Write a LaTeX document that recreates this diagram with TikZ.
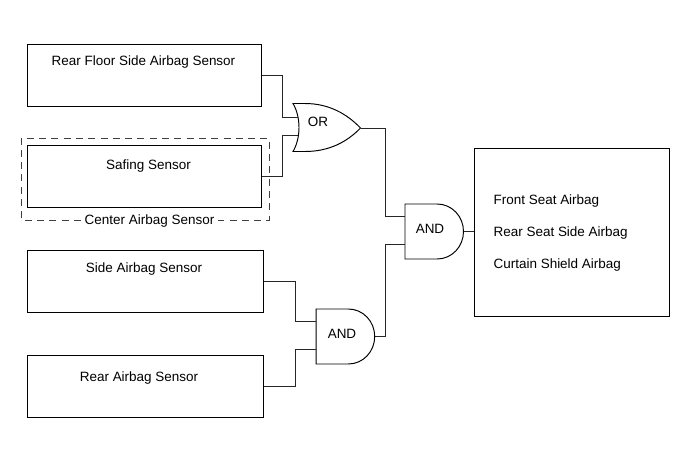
\documentclass[tikz,border=0pt]{standalone}
\usepackage{fontspec}
\setmainfont{Liberation Sans}

\tikzset{
    boxline/.style={draw, line width=0.55pt},
    wire/.style={line width=0.45pt, black!85},
    sensor/.style={boxline, minimum width=4.68cm, minimum height=1.24cm, inner sep=0pt},
    caption/.style={font=\fontsize{7.67}{9}\selectfont, inner sep=1pt},
    andgate/.pic={
        \draw[boxline] (-29,-27.5) -- (3,-27.5) .. controls (18,-27.5) and (29.5,-15) .. (29.5,0)
            .. controls (29.5,15) and (18,27.5) .. (3,27.5) -- (-29,27.5) -- cycle;
        \coordinate (-in1) at (-29,-15.5);
        \coordinate (-in2) at (-29,12.5);
        \coordinate (-out) at (29.5,0);
    },
    orgate/.pic={
        \draw[boxline] (-34,-24.5) -- (-22,-24.5) .. controls (2,-24.5) and (20,-14) .. (33.5,0)
            .. controls (20,14) and (2,23.5) .. (-22,23.5) -- (-34,23.5)
            .. controls (-26,10) and (-26,-11) .. (-34,-24.5) -- cycle;
        \coordinate (-in1) at (-29,-11);
        \coordinate (-in2) at (-29,7);
        \coordinate (-out) at (33.5,0);
    }
}

\begin{document}
\begin{tikzpicture}[x=0.02cm,y=-0.02cm]
    \useasboundingbox (0,0) rectangle (691,467);

    % sensors
    \node[sensor] (rearfloor) at (144.7,75) {};
    \node[caption] (rearfloortext) at (143.5,62.3) {Rear Floor Side Airbag Sensor};

    \node[sensor] (safing) at (144.7,176) {};
    \node[caption] (safingtext) at (148.5,166.3) {Safing Sensor};

    \node[sensor, minimum width=4.72cm] (side) at (145.7,281) {};
    \node[caption] (sidetext) at (144,269.3) {Side Airbag Sensor};

    \node[sensor, minimum width=4.72cm] (rear) at (145.7,386) {};
    \node[caption] (reartext) at (139,378.3) {Rear Airbag Sensor};

    % center airbag sensor frame
    \node[caption, inner xsep=2pt] (center) at (149.5,221) {Center Airbag Sensor};
    \draw[wire, dash pattern=on 4pt off 3pt, black!75] (center.west |- 21,220) -- (21,220) -- (21,138) -- (269,138) -- (269,220) -- (center.east |- 269,220);

    % gates
    \pic (orgate) at (327,128) {orgate};
    \node[caption] (ortext) at (318,121.7) {OR};

    \pic (andtop) at (434,231.5) {andgate};
    \node[caption] (andtoptext) at (430,229.3) {AND};

    \pic (andlow) at (345.2,336.5) {andgate};
    \node[caption] (andlowtext) at (342,334) {AND};

    % airbags
    \node[boxline, minimum width=3.9cm, minimum height=3.36cm, inner sep=0pt] (airbags) at (572.3,232) {};
    \node[caption, anchor=west] (fronttext) at (491.5,200.8) {Front Seat Airbag};
    \node[caption, anchor=west] (seattext) at (491.5,233.3) {Rear Seat Side Airbag};
    \node[caption, anchor=west] (curtaintext) at (491.5,264.8) {Curtain Shield Airbag};

    % connections
    \draw[wire] (rearfloor.east) -- ++(20.5,0) |- (orgate-in1);
    \draw[wire] (safing.east) -- ++(20.5,0) |- (orgate-in2);
    \draw[wire] (side.east) -- ++(31.5,0) |- (andlow-in1);
    \draw[wire] (rear.east) -- ++(31.5,0) |- (andlow-in2);
    \draw[wire] (orgate-out) -- ++(24.5,0) |- (andtop-in1);
    \draw[wire] (andlow-out) -- ++(10.5,0) |- (andtop-in2);
    \draw[wire] (andtop-out) -- (airbags.west |- andtop-out);
\end{tikzpicture}
\end{document}
